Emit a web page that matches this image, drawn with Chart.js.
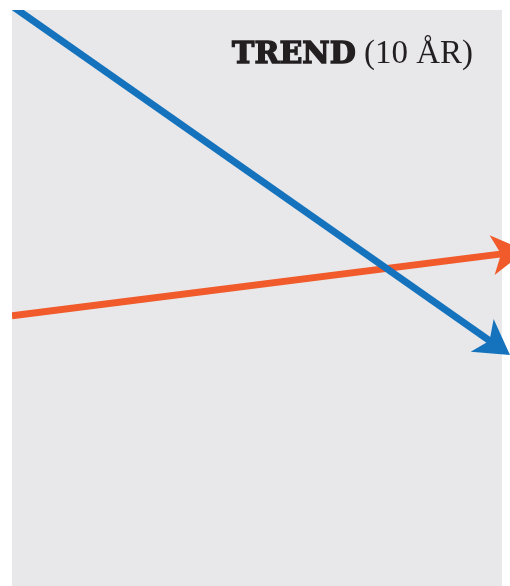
<!DOCTYPE html>
<html>
<head>
<meta charset="utf-8">
<script src="https://cdn.jsdelivr.net/npm/chart.js@4.4.0/dist/chart.umd.min.js"></script>
<style>
  html, body { margin: 0; padding: 0; background: #ffffff; }
  canvas { display: block; }
</style>
</head>
<body>
<canvas id="trendChart" width="510" height="586"></canvas>
<script>
// start and end of each 10-year trend (orange head runs off the page)
var blueYears = [0, 10];
var orangeYears = [0, 10.25];
var blueTrend = [100.7, 42.3];
var orangeTrend = [46.9, 57.7];
var titleBold = "TREND";
var titleRest = " (10 ÅR)";

var blue = "#1573bd";
var orange = "#f15a2b";

function toPoints(xs, values) {
  return xs.map(function (yr, i) { return { x: yr, y: values[i] }; });
}

// grey panel behind the lines
var panelBg = {
  id: "panelBg",
  beforeDatasetsDraw: function (chart) {
    var a = chart.chartArea, c = chart.ctx;
    c.save();
    c.fillStyle = "#e8e8ea";
    c.fillRect(a.left, a.top, a.right - a.left + 10, a.bottom - a.top);
    c.restore();
  }
};

// arrow heads at the end of every line
var arrowHeads = {
  id: "arrowHeads",
  afterDatasetsDraw: function (chart) {
    var c = chart.ctx;
    chart.data.datasets.forEach(function (ds, i) {
      var pts = chart.getDatasetMeta(i).data;
      var p0 = pts[pts.length - 2], p1 = pts[pts.length - 1];
      var dx = p1.x - p0.x, dy = p1.y - p0.y;
      var len = Math.sqrt(dx * dx + dy * dy);
      var ux = dx / len, uy = dy / len, vx = -uy, vy = ux;
      var tipX = p1.x + ux * 22, tipY = p1.y + uy * 22;
      c.save();
      c.fillStyle = ds.borderColor;
      c.beginPath();
      c.moveTo(tipX, tipY);
      c.lineTo(p1.x - ux * 12 + vx * 20, p1.y - uy * 12 + vy * 20);
      c.lineTo(p1.x - ux * 3, p1.y - uy * 3);
      c.lineTo(p1.x - ux * 12 - vx * 20, p1.y - uy * 12 - vy * 20);
      c.closePath();
      c.fill();
      c.restore();
    });
  }
};

// heading in the top right corner
var heading = {
  id: "heading",
  afterDraw: function (chart) {
    var c = chart.ctx;
    var right = 473, base = 63;
    c.save();
    c.fillStyle = "#231f20";
    c.strokeStyle = "#231f20";
    c.textBaseline = "alphabetic";
    c.textAlign = "right";
    c.font = "33px 'Liberation Serif', serif";
    c.fillText(titleRest, right, base);
    var w = c.measureText(titleRest).width;
    c.font = "bold 30px 'DejaVu Serif', serif";
    c.lineWidth = 1.4;
    c.fillText(titleBold, right - w, base);
    c.strokeText(titleBold, right - w, base);
    c.restore();
  }
};

var ctx = document.getElementById("trendChart").getContext("2d");
var trendChart = new Chart(ctx, {
  type: "line",
  data: {
    datasets: [
      {
        label: "Blå",
        data: toPoints(blueYears, blueTrend),
        borderColor: blue,
        borderWidth: 7,
        pointRadius: 0,
        clip: { left: 0, top: 0, right: 30, bottom: 0 }
      },
      {
        label: "Orange",
        data: toPoints(orangeYears, orangeTrend),
        borderColor: orange,
        borderWidth: 7,
        pointRadius: 0,
        clip: { left: 0, top: 0, right: 30, bottom: 0 }
      }
    ]
  },
  options: {
    responsive: false,
    animation: false,
    layout: { padding: { left: 12, right: 18, top: 10, bottom: 0 } },
    scales: {
      x: { type: "linear", min: 0, max: 10, display: false },
      y: { min: 0, max: 100, display: false }
    },
    plugins: {
      legend: { display: false },
      tooltip: { enabled: false }
    }
  },
  plugins: [panelBg, arrowHeads, heading]
});
</script>
</body>
</html>
